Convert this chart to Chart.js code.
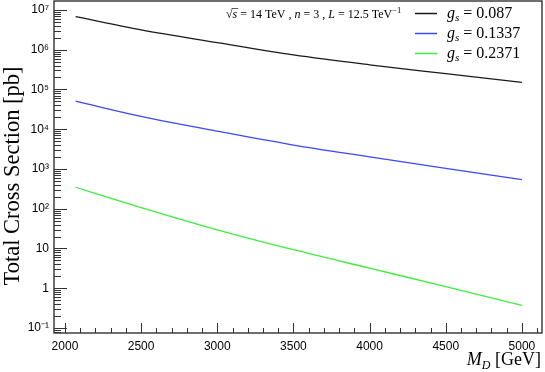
<!DOCTYPE html>
<html>
<head>
<meta charset="utf-8">
<script src="https://cdn.jsdelivr.net/npm/chart.js@4.4.0/dist/chart.umd.min.js"></script>
<style>
html, body { margin: 0; padding: 0; background: #fff; }
canvas { display: block; }
</style>
</head>
<body>
<canvas id="chart" width="545" height="372"></canvas>
<script>
/*
 * Data.
 */
var massPoints = [2070, 2500, 3000, 3500, 4000, 4500, 5000];
var xsecGs087 = [6.8e6, 3.16e6, 1.51e6, 7.4e5, 4.17e5, 2.5e5, 1.5e5];
var xsecGs1337 = [5.1e4, 2.1e4, 8.9e3, 4.0e3, 2.02e3, 1.03e3, 540];
var xsecGs2371 = [347, 107, 29.5, 9.3, 3.2, 1.1, 0.37];
var couplings = ['0.087', '0.1337', '0.2371'];
var lineColors = ['#1a1a1a', '#3a48ff', '#3cf03c'];
var xTickValues = [2000, 2500, 3000, 3500, 4000, 4500, 5000];
var yTickLabels = { '-1': '10\u207B\u00B9', '0': '1', '1': '10', '2': '10\u00B2', '3': '10\u00B3',
	'4': '10\u2074', '5': '10\u2075', '6': '10\u2076', '7': '10\u2077' };

var serif = '"Liberation Serif", "DejaVu Serif", serif';
var sans = '"Liberation Sans", Arial, sans-serif';

function toPoints(ys) {
	var pts = [];
	for (var i = 0; i < massPoints.length; i++) {
		pts.push({ x : massPoints[i], y : ys[i] });
	}
	return pts;
}

function drawParts(ctx, parts, x, y, align) {
	var total = 0;
	parts.forEach(function(p) {
		ctx.font = p.font;
		p.w = ctx.measureText(p.t).width;
		total += p.w;
	});
	if (align === 'right') x -= total;
	parts.forEach(function(p) {
		ctx.font = p.font;
		p.x = x;
		ctx.fillText(p.t, x, y + (p.dy || 0));
		x += p.w;
	});
	return parts;
}

/*
 * ROOT style frame, inward ticks and the labels.
 */
var rootFrame = {
	id : 'rootFrame',
	afterDraw : function(chart) {
		var ctx = chart.ctx;
		var a = chart.chartArea;
		var xs = chart.scales.x;
		var ys = chart.scales.y;
		ctx.save();
		ctx.strokeStyle = '#222';
		ctx.lineWidth = 1.3;
		ctx.strokeRect(a.left, a.top, a.right - a.left, a.bottom - a.top);

		// y ticks, log decades
		ctx.lineWidth = 1;
		ctx.strokeStyle = '#333';
		for (var e = -2; e <= 7; e++) {
			for (var m = 1; m <= 9; m++) {
				var v = m * Math.pow(10, e);
				if (v < ys.min || v > ys.max) continue;
				var py = Math.round(ys.getPixelForValue(v)) + 0.5;
				var len = m === 1 ? 13 : 7;
				ctx.beginPath();
				ctx.moveTo(a.left, py);
				ctx.lineTo(a.left + len, py);
				ctx.stroke();
			}
		}
		// x ticks
		for (var t = 2000; t <= 5100; t += 100) {
			var px = Math.round(xs.getPixelForValue(t)) + 0.5;
			var l2 = (t % 500 === 0) ? 10 : 5;
			ctx.beginPath();
			ctx.moveTo(px, a.bottom);
			ctx.lineTo(px, a.bottom - l2);
			ctx.stroke();
		}

		ctx.fillStyle = '#000';
		ctx.textBaseline = 'alphabetic';
		ctx.textAlign = 'left';

		// header text
		var hs = drawParts(ctx, [
			{ t : '\u221A', font : '12px ' + serif },
			{ t : 's', font : 'italic 12px ' + serif },
			{ t : ' = 14 TeV , ', font : '12px ' + serif },
			{ t : 'n', font : 'italic 12px ' + serif },
			{ t : ' = 3 , ', font : '12px ' + serif },
			{ t : 'L', font : 'italic 12px ' + serif },
			{ t : ' = 12.5 TeV', font : '12px ' + serif },
			{ t : '\u22121', font : '8.5px ' + serif, dy : -5 }
		], 226, 18);
		ctx.beginPath();
		ctx.lineWidth = 0.8;
		ctx.moveTo(hs[1].x - 1, 8.5);
		ctx.lineTo(hs[1].x + hs[1].w + 1, 8.5);
		ctx.stroke();

		// legend
		chart.data.datasets.forEach(function(ds, i) {
			var ly = 13 + i * 20;
			ctx.strokeStyle = ds.borderColor;
			ctx.lineWidth = 1.5;
			ctx.beginPath();
			ctx.moveTo(415, ly + 0.5);
			ctx.lineTo(437, ly + 0.5);
			ctx.stroke();
			drawParts(ctx, [
				{ t : 'g', font : 'italic 16px ' + serif },
				{ t : 's', font : 'italic 11px ' + serif, dy : 3 },
				{ t : ' = ' + couplings[i], font : '16px ' + serif }
			], 447, ly + 5);
		});

		// axis titles
		drawParts(ctx, [
			{ t : 'M', font : 'italic 18px ' + serif },
			{ t : 'D', font : 'italic 12px ' + serif, dy : 4 },
			{ t : ' [GeV]', font : '18px ' + serif }
		], 541, 365, 'right');

		ctx.save();
		ctx.translate(19, 176);
		ctx.rotate(-Math.PI / 2);
		ctx.textAlign = 'center';
		ctx.font = '22.5px ' + serif;
		ctx.fillText('Total Cross Section [pb]', 0, 0);
		ctx.restore();

		ctx.restore();
	}
};

var config = {
	type : 'line',
	data : {
		datasets : [ {
			label : 'gs = ' + couplings[0],
			data : toPoints(xsecGs087),
			borderColor : lineColors[0]
		}, {
			label : 'gs = ' + couplings[1],
			data : toPoints(xsecGs1337),
			borderColor : lineColors[1]
		}, {
			label : 'gs = ' + couplings[2],
			data : toPoints(xsecGs2371),
			borderColor : lineColors[2]
		} ]
	},
	options : {
		responsive : false,
		animation : false,
		datasets : {
			line : {
				borderWidth : 1.3,
				pointRadius : 0,
				cubicInterpolationMode : 'monotone',
				fill : false
			}
		},
		layout : { padding : { top : 1, right : 3, left : 0, bottom : 0 } },
		plugins : {
			legend : { display : false },
			tooltip : { enabled : false }
		},
		scales : {
			x : {
				type : 'linear',
				min : 1928,
				max : 5132,
				grid : { display : false, drawTicks : false },
				border : { display : false },
				afterBuildTicks : function(s) {
					s.ticks = xTickValues.map(function(v) { return { value : v }; });
				},
				ticks : {
					autoSkip : false,
					maxRotation : 0,
					padding : 6,
					color : '#000',
					font : { family : sans, size : 12 },
					callback : function(v) { return String(v); }
				},
				afterFit : function(s) {
					s.height = 39;
					s.paddingLeft = 0;
					s.paddingRight = 0;
				}
			},
			y : {
				type : 'logarithmic',
				min : 0.0748,
				max : 1.68e7,
				grid : { display : false, drawTicks : false },
				border : { display : false },
				afterBuildTicks : function(s) {
					var t = [];
					for (var e = -1; e <= 7; e++) t.push({ value : Math.pow(10, e) });
					s.ticks = t;
				},
				ticks : {
					autoSkip : false,
					padding : 5,
					color : '#000',
					font : { family : sans, size : 12 },
					callback : function(v) {
						var e = Math.round(Math.log10(v));
						return yTickLabels[e] || '';
					}
				},
				afterFit : function(s) {
					s.width = 54;
					s.paddingTop = 0;
					s.paddingBottom = 0;
				}
			}
		}
	},
	plugins : [ rootFrame ]
};

window.onload = function() {
	var ctx = document.getElementById('chart').getContext('2d');
	window.myChart = new Chart(ctx, config);
};
</script>
</body>
</html>
